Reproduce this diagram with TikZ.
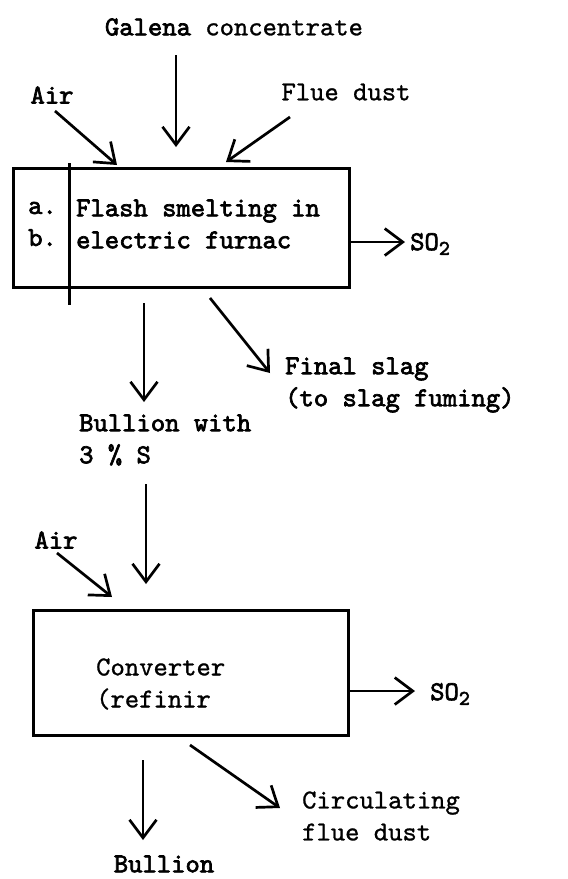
\documentclass[tikz,border=0pt]{standalone}
\usepackage{fontspec}
\setmonofont{lmmono10-regular.otf}[
    UprightFeatures={FakeBold=1},
    BoldFont=lmmono10-regular.otf, BoldFeatures={FakeBold=2.5}]
\usepackage{tikz}
\usetikzlibrary{arrows.meta, positioning}

\newcommand{\flowfont}{\ttfamily\fontsize{27.3}{32}\selectfont}
\newcommand{\sotwo}{SO\raisebox{-0.4ex}{\fontsize{21}{21}\selectfont 2}}

\tikzset{
    lbl/.style={font=\flowfont\bfseries, inner sep=0pt, align=left},
    thinlbl/.style={font=\flowfont, inner sep=0pt, align=left},
    unit/.style={draw, line width=3pt, rectangle},
    flow/.style={-{Straight Barb[length=18pt, width=27pt]}, line width=2.7pt},
}

\begin{document}
\begin{tikzpicture}[x=1pt, y=-1pt]
        \useasboundingbox (0,0) rectangle (568,879);

        % smelting stage
        \node[lbl] (galena) at (234,27) {Galena \mdseries concentrate};
        \node[lbl] (air1) at (52,95) {Air};
        \node[thinlbl] (flue) at (346,92) {Flue dust};
        \node[unit, minimum width=336pt, minimum height=119pt] (smelt) at (181,227.5) {};
        \node[lbl, anchor=west] (ab) at (28,224) {a.\\b.};
        \node[lbl, anchor=west] (flash) at (76,224) {Flash smelting in\\electric furnac};
        \node[lbl, anchor=west] (so2a) at (410,244) {\sotwo};
        \node[lbl, anchor=west] (bull3) at (79,440) {Bullion with\\3 \% S};
        \node[lbl, anchor=west] (slag) at (285,385) {Final slag\\(to slag fuming)};
        \draw[line width=3pt] (69,163) -- (69,305);

        \coordinate (g1) at (176,55);   \coordinate (g2) at (176,147);
        \coordinate (a1) at (55,111);   \coordinate (a2) at (117,165);
        \coordinate (f1) at (290,117);  \coordinate (f2) at (226,162);
        \coordinate (s1) at (349,242);  \coordinate (s2) at (405,242);
        \coordinate (b1) at (144,303);  \coordinate (b2) at (144,402);
        \coordinate (l1) at (210,298);  \coordinate (l2) at (270,373);

        \path[flow]
        (g1) edge (g2)
        (a1) edge (a2)
        (f1) edge (f2)
        (s1) edge (s2)
        (b1) edge (b2)
        (l1) edge (l2);

        % converter stage
        \node[lbl] (air2) at (56,540) {Air};
        \node[unit, minimum width=315pt, minimum height=125pt] (conv) at (191,672.5) {};
        \node[thinlbl, anchor=west] (convtxt) at (96,684) {Converter\\(refinir};
        \node[lbl, anchor=west] (so2b) at (430,694) {\sotwo};
        \node[lbl] (bullion) at (164,864) {Bullion};
        \node[thinlbl, anchor=west] (circ) at (302,816) {Circulating\\flue dust};

        \coordinate (c1) at (146,484);  \coordinate (c2) at (146,584);
        \coordinate (r1) at (57,553);   \coordinate (r2) at (112,597);
        \coordinate (o1) at (349,691);  \coordinate (o2) at (415,691);
        \coordinate (u1) at (143,760);  \coordinate (u2) at (143,840);
        \coordinate (d1) at (190,745);  \coordinate (d2) at (280,808);

        \path[flow]
        (c1) edge (c2)
        (r1) edge (r2)
        (o1) edge (o2)
        (u1) edge (u2)
        (d1) edge (d2);
\end{tikzpicture}
\end{document}
